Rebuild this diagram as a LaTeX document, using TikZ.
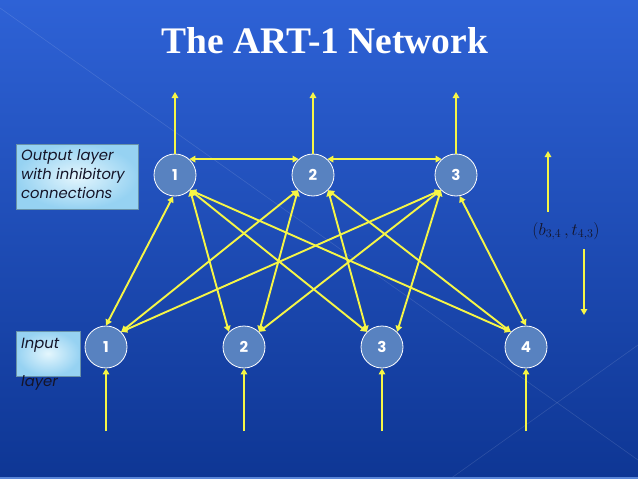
\documentclass[tikz,border=0pt]{standalone}
\usepackage{fontspec}
\setmainfont{Liberation Serif}
\setsansfont{Poppins}
\usetikzlibrary{arrows.meta,shadings}
\definecolor{bgtop}{RGB}{46,98,214}
\definecolor{bgbot}{RGB}{14,54,148}
\definecolor{bgline}{RGB}{90,134,216}
\definecolor{wire}{RGB}{246,246,70}
\definecolor{nodefill}{RGB}{88,130,192}
\definecolor{lbltext}{RGB}{20,20,40}
\definecolor{boxlight}{RGB}{228,246,253}
\definecolor{boxdark}{RGB}{150,210,242}
\tikzset{
  neuron/.style={circle, minimum size=42pt, inner sep=0pt, fill=nodefill, draw=white, line width=0.8pt,
    text=white, font=\sffamily\bfseries\fontsize{15}{15}\selectfont},
  wirel/.style={draw=wire, line width=1.9pt, -{Triangle[length=6pt,width=6.5pt]}},
  wireb/.style={draw=wire, line width=1.9pt, {Triangle[length=6pt,width=6.5pt]}-{Triangle[length=6pt,width=6.5pt]}},
  lblbox/.style={inner sep=0pt, draw=boxdark!70!black, line width=0.3pt, inner color=boxlight, outer color=boxdark},
  lbltxt/.style={anchor=north west, align=left, text=lbltext, font=\sffamily\itshape\fontsize{14.8}{19}\selectfont, inner sep=0pt},
}
\begin{document}
\begin{tikzpicture}[x=1pt,y=-1pt]
\useasboundingbox (0,0) rectangle (638,479);
\shade[top color=bgtop, bottom color=bgbot] (0,0) rectangle (638,479);
\draw[white, opacity=0.12, line width=0.6pt] (0,8) -- (638,460);
\draw[white, opacity=0.12, line width=0.6pt] (450,479) -- (638,345);
\draw[bgline, line width=1.5pt] (0,478.2) -- (638,478.2);

\node[text=white, font=\rmfamily\bfseries\fontsize{37.5}{40}\selectfont] (title) at (325,41) {The ART-1 Network};

% label boxes
\node[lblbox, minimum width=122pt, minimum height=65pt] (obox) at (77,176.5) {};
\node[lbltxt] (otxt) at (21,149) {Output layer\\with inhibitory\\connections};
\node[lblbox, minimum width=64pt, minimum height=45pt] (ibox) at (48,353.5) {};
\node[lbltxt, anchor=west] (itxt) at (21,345) {Input};
\node[lbltxt, anchor=west] (ltxt) at (21,383) {layer};

% neurons
\node[neuron] (O1) at (175,175) {1};
\node[neuron] (O2) at (313,175) {2};
\node[neuron] (O3) at (456,175) {3};
\node[neuron] (I1) at (106,347) {1};
\node[neuron] (I2) at (244,347) {2};
\node[neuron] (I3) at (382,347) {3};
\node[neuron] (I4) at (526,347) {4};

% free ends
\coordinate (U1) at (175,92);
\coordinate (U2) at (313,92);
\coordinate (U3) at (456,92);
\coordinate (B1) at (106,431);
\coordinate (B2) at (244,431);
\coordinate (B3) at (382,431);
\coordinate (B4) at (526,431);

% output arrows
\draw[wirel] (O1.north) -- (U1);
\draw[wirel] (O2.north) -- (U2);
\draw[wirel] (O3.north) -- (U3);
% input arrows
\draw[wirel] (B1) -- (I1.south);
\draw[wirel] (B2) -- (I2.south);
\draw[wirel] (B3) -- (I3.south);
\draw[wirel] (B4) -- (I4.south);

% inhibitory connections
\draw[wireb] (O1.48) -- (O2.132);
\draw[wireb] (O2.48) -- (O3.132);

% full connections (bottom-up and top-down)
\draw[wireb] (O1.265) -- (I1.north);
\draw[wireb] (O1.315) -- (I2.135);
\draw[wireb] (O1.315) -- (I3.135);
\draw[wireb] (O1.315) -- (I4.135);
\draw[wireb] (O2.225) -- (I1.45);
\draw[wireb] (O2.225) -- (I2.45);
\draw[wireb] (O2.315) -- (I3.135);
\draw[wireb] (O2.315) -- (I4.135);
\draw[wireb] (O3.225) -- (I1.45);
\draw[wireb] (O3.225) -- (I2.45);
\draw[wireb] (O3.225) -- (I3.45);
\draw[wireb] (O3.280) -- (I4.north);

% weights label
\coordinate (R1a) at (548,212);
\coordinate (R1b) at (548,151);
\coordinate (R2a) at (584,249);
\coordinate (R2b) at (584,315);
\draw[wirel] (R1a) -- (R1b);
\draw[wirel] (R2a) -- (R2b);
\node[text=lbltext, font=\fontsize{16.5}{16}\selectfont] (wlbl) at (566,231) {$(b_{3,4}\,,t_{4,3})$};
\end{tikzpicture}
\end{document}
